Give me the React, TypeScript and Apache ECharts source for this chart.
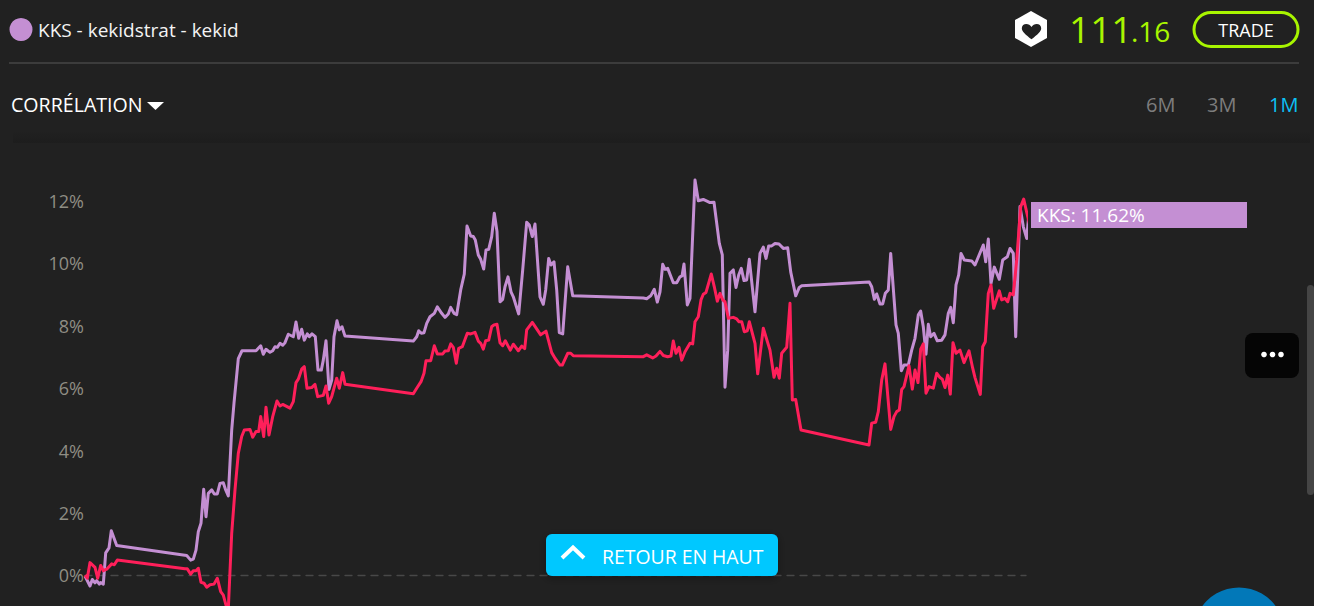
import React, { useEffect, useRef } from "react";
import * as echarts from "echarts";

const seriesName = "KKS";
const benchmarkName = "Benchmark";
const titleText = "KKS - kekidstrat - kekid";
const dropdownText = "CORRÉLATION";
const periods = ["6M", "3M", "1M"];
const backToTopText = "RETOUR EN HAUT";
const tradeText = "TRADE";
const priceWhole = "111";
const priceDecimals = ".16";

// [elapsed time along the window, performance in %]
const kksValues: [number, number][] = [
  [0,-0.02],[5,-0.34],[7.3,-0.13],[10,-0.24],[11.7,-0.17],[14.3,-0.28],[15.7,-0.23],[18.3,-0.28],[20.7,0.72],[24,0.88],
  [26.3,1.43],[31.7,0.96],[101.7,0.64],[105.7,0.49],[108.3,0.52],[111,0.81],[113.3,1.4],[116,1.67],[118.7,2.76],[121,1.88],
  [123.3,2.63],[126.7,2.74],[129.3,2.61],[132.3,2.61],[135,2.95],[138.3,2.97],[140.7,2.74],[143.3,2.55],[146.7,4.66],[149,5.52],
  [153.3,6.95],[157,7.2],[171,7.2],[175.7,7.36],[178.3,7.09],[181,7.25],[185,7.15],[187.7,7.2],[190,7.33],[192.3,7.31],
  [195,7.44],[197.7,7.38],[200,7.46],[203.3,7.73],[208.3,7.65],[211,8.12],[213.7,7.6],[216.7,7.89],[219.3,7.54],[222.3,7.74],
  [224.3,7.65],[227,7.74],[230.3,7.65],[233,6.58],[236.3,6.58],[238.3,6.9],[241,7.52],[244,5.96],[246.7,6.26],[249,7.65],
  [252,8.16],[254.3,7.87],[257,7.97],[260,7.67],[328.3,7.51],[331.7,7.65],[333.7,7.84],[336.3,7.76],[339,7.78],[341.7,8.08],
  [345,8.29],[349.3,8.4],[352.3,8.61],[356.7,8.4],[360,8.27],[363.3,8.38],[365.7,8.59],[369,8.4],[371.7,8.36],[375.7,9.15],
  [379.3,9.66],[382,11.2],[385.7,10.88],[388.3,10.86],[390.3,10.75],[393.3,10.27],[395.7,10.13],[398.7,9.82],[401,10.43],[403.7,10.45],
  [406.7,10.86],[409.3,11.61],[412,11.02],[415,8.77],[417.7,8.85],[420,9.25],[423,9.57],[426,9.09],[428.3,8.93],[433.7,8.38],
  [437.7,9.79],[441.7,11.32],[444.3,11.23],[447.3,10.86],[450,11.26],[455,8.93],[458.3,8.69],[460.7,9.15],[463.7,10.16],[466,9.95],
  [469,10.05],[471.7,9.15],[474.3,7.78],[477.7,7.74],[482.7,9.89],[487.7,8.96],[558.3,8.89],[561.7,8.87],[565.7,8.96],[569.3,9.17],
  [572.3,8.76],[575,9.09],[577.7,9.97],[580,9.81],[582.7,9.84],[588.3,9.38],[591.7,9.38],[595,9.57],[597,9.6],[599,9.98],
  [602.3,8.67],[605,8.88],[610,12.67],[613.3,12.01],[618.3,12.05],[625,11.95],[629,11.96],[634.3,10.64],[637.3,10.27],[640,6.03],
  [642.7,7.22],[645,9.68],[648.3,9.79],[651,9.23],[653.7,9.63],[656.3,9.84],[659,9.45],[661.7,9.47],[664.3,10.13],[670,8.45],
  [675,10.32],[678.3,10.52],[681,10.16],[683.7,10.56],[686.7,10.56],[690,10.64],[694,10.62],[698.3,10.48],[702.7,10.5],[705.7,9.73],
  [710.7,8.96],[714.3,9.23],[716.7,9.28],[784.3,9.4],[786.7,9.25],[789.3,8.85],[791.7,9.02],[795,8.7],[797.7,8.7],[800.3,9.04],
  [803.3,9.15],[805.7,10.32],[811,8.03],[813.3,7.76],[816.3,6.56],[819,6.74],[823.3,6.74],[826.7,7.22],[830,7.6],[833.3,8.35],
  [835.7,8.47],[838.3,7.97],[841,7.09],[843.3,8.05],[845.7,7.65],[849,7.76],[852.3,7.52],[856.7,7.54],[860,7.71],[863.3,8.4],
  [865.7,8.59],[868.3,8.1],[871,9.31],[873.7,9.63],[876,10.32],[879.3,10.11],[886.7,10.08],[890,9.95],[898.3,10.59],[900.7,10.05],
  [903.3,10.78],[906,9.36],[909.3,9.88],[914.3,9.49],[917.7,10.11],[922.3,10.21],[925,10.48],[928.3,10.32],[930.7,7.65],[935,11.82],
  [938.3,11.18],[941.7,10.8],[944,11.62],
];

const benchmarkValues: [number, number][] = [
  [0,0.01],[2.3,-0.09],[5,0.41],[10,0.26],[12.7,-0.09],[15.7,0.32],[18.3,0.15],[21.7,0.2],[26.7,0.37],[29.3,0.34],
  [32.3,0.49],[100,0.21],[102.3,0.21],[105.7,0.04],[108.3,0.15],[111,0.15],[113.3,0.23],[116,-0.22],[119,-0.25],[121.7,-0.38],
  [125,-0.3],[129,-0.28],[132.3,-0.09],[135.7,-0.52],[138.3,-0.63],[141,-0.95],[143.3,-1.08],[146.7,1.35],[150,2.74],[153.3,3.91],
  [156.7,4.45],[159.3,4.66],[165,4.68],[167.7,4.43],[171,4.61],[173.7,4.61],[175.7,5.09],[178.7,4.45],[181,5.39],[184,4.5],
  [187.7,5.09],[192,5.59],[195,5.43],[197.7,5.48],[205,5.36],[208.3,5.57],[211,6.18],[213.3,6.29],[216.7,6.61],[219.3,6.69],
  [222,6],[226.7,6.02],[230,6.12],[232.7,5.73],[238.3,5.77],[241,6.07],[243.7,5.52],[246.7,5.73],[251.7,6.32],[254.3,6],
  [257.7,6.5],[260,6.13],[328.3,5.82],[331.7,6],[336,6.21],[339,6.48],[341,6.88],[345.7,6.88],[349.3,7.36],[352.3,7.1],
  [357.7,7.1],[360,7.19],[363.3,7.2],[365.7,7.42],[368.3,7.31],[371.3,6.8],[373.7,7.28],[377.3,7.33],[382.3,7.76],[385.7,7.74],
  [390,7.79],[393.3,7.51],[395.7,7.44],[398.3,7.25],[400.7,7.52],[403.7,7.54],[406.7,7.97],[409,8.03],[412,8.05],[415,7.46],
  [417.7,7.36],[420.3,7.52],[425.3,7.22],[428.3,7.41],[433.3,7.2],[436.7,7.35],[439.7,7.27],[441.7,7.87],[447.3,8.11],[455.7,7.71],
  [461,7.83],[466.7,7.14],[470,6.96],[475,6.74],[477.3,6.74],[482.7,7.12],[485.7,7.12],[488.3,7.04],[558.3,7.01],[561.7,7.07],
  [567.7,6.97],[571,7.03],[575,7.18],[578.3,7.05],[582.7,7.01],[586,7.03],[588.3,7.51],[591,7.12],[594,7.31],[596.7,6.9],
  [600,7.17],[605,7.44],[607.7,7.42],[610,8.13],[613.3,8.29],[616,8.83],[618.3,9.01],[621,9.07],[626.3,9.66],[629.3,9.25],
  [632.3,8.79],[635,9.04],[637.7,8.83],[640,8.77],[643.3,8.24],[648.3,8.27],[651.7,8.22],[654,8.13],[656.7,8.13],[659.3,7.81],
  [662.3,7.84],[664.3,8.13],[670,7.44],[672.7,6.46],[678.3,7.92],[685,7.22],[689,6.35],[691.7,6.64],[694.3,6.32],[696.7,7.12],
  [701.7,7.31],[705,8.72],[707.3,5.62],[710.7,5.64],[716,4.66],[784,4.18],[786.7,4.88],[790.7,4.91],[793.3,5.25],[796.7,6.26],
  [800,6.78],[805.7,4.68],[809,5.09],[811.7,5.25],[814.3,5.3],[816.7,5.96],[819,6.05],[824,6.72],[827.3,5.97],[830,6.58],
  [833,6.18],[835.7,7.25],[838.3,7.42],[841,5.84],[844,6.05],[848.3,6],[851.7,6.48],[855,6.34],[857.3,6.29],[860,6.02],
  [862.7,6.42],[865.3,5.81],[868,7.46],[871,7.12],[875,7.22],[879,6.82],[884,7.2],[887.7,6.64],[890,6.34],[895.3,5.8],
  [897.7,7.33],[900.3,7.49],[903.3,9.04],[906,9.31],[908.7,8.56],[914.3,9.12],[916.7,8.83],[920,8.88],[922.7,8.77],[925,9.04],
  [928.3,8.99],[931.7,10.11],[935.7,11.82],[938.7,12.06],[944.3,11.28],
];

const FONT = '"Open Sans", sans-serif';
const BG = "#212121";
const PURPLE = "#c48fd3";
const RED = "#ff1f5a";

echarts.graphic.registerShape(
  "heartLogo",
  echarts.graphic.extendPath(
    "M10 16 C4 11 0 8 0 4.4 C0 1.6 2.2 0 4.6 0 C6.8 0 8.8 1.2 10 3 C11.2 1.2 13.2 0 15.4 0 C17.8 0 20 1.6 20 4.4 C20 8 16 11 10 16 Z",
    {}
  )
);

const label = (text: string, x: number, y: number, size: number, fill: string, align = "left", z = 10) => ({
  type: "text",
  z,
  style: { text, x, y, fill, font: `${size}px ${FONT}`, textAlign: align, textVerticalAlign: "middle" },
});

const last = kksValues[kksValues.length - 1][1];

export default function App() {
  const ref = useRef<HTMLDivElement>(null);
  useEffect(() => {
    if (!ref.current) return;
    const chart = echarts.init(ref.current, undefined, { renderer: "svg" });
    chart.setOption({
      animation: false,
      backgroundColor: BG,
      grid: { left: 85, width: 941, top: 138.6, height: 499.2, outerBoundsMode: "none" },
      xAxis: {
        type: "value",
        min: 0,
        max: 941,
        splitLine: { show: false },
        axisTick: { show: false },
        axisLabel: { show: false },
        axisLine: { show: true, onZero: true, lineStyle: { color: "#484848", type: [7, 6], width: 1.3 } },
      },
      yAxis: {
        type: "value",
        min: -2,
        max: 14,
        interval: 2,
        axisLine: { show: false },
        axisTick: { show: false },
        splitLine: { show: false },
        axisLabel: {
          showMinLabel: false,
          showMaxLabel: false,
          margin: 1,
          formatter: "{value}%",
          color: "#8f8d84",
          fontFamily: FONT,
          fontSize: 18,
        },
      },
      series: [
        {
          name: seriesName,
          type: "line",
          data: kksValues,
          symbol: "none",
          clip: false,
          z: 2,
          lineStyle: { color: PURPLE, width: 3, join: "round" },
          endLabel: {
            show: true,
            formatter: () => `${seriesName}: ${last.toFixed(2)}%`,
            backgroundColor: PURPLE,
            color: "#ffffff",
            fontFamily: FONT,
            fontSize: 19,
            width: 205,
            height: 26,
            lineHeight: 26,
            padding: [0, 5, 0, 6],
            align: "left",
            verticalAlign: "middle",
            offset: [-5, -9],
          },
        },
        {
          name: benchmarkName,
          type: "line",
          data: benchmarkValues,
          symbol: "none",
          clip: false,
          z: 3,
          lineStyle: { color: RED, width: 3, join: "round" },
        },
      ],
      graphic: [
        {
          type: "rect",
          z: 1,
          shape: { x: 13, y: 131, width: 1297, height: 12 },
          style: {
            fill: new echarts.graphic.LinearGradient(0, 0, 0, 1, [
              { offset: 0, color: "#212121" },
              { offset: 1, color: "#1d1d1d" },
            ]),
          },
        },
        { type: "circle", z: 10, shape: { cx: 21, cy: 29.5, r: 11.5 }, style: { fill: PURPLE } },
        label(titleText, 38, 30, 19, "#f4f4f4"),
        { type: "rect", z: 10, shape: { x: 9, y: 62, width: 1290, height: 2 }, style: { fill: "#3c3c3c" } },
        label(dropdownText, 11, 104.5, 19.6, "#ffffff"),
        { type: "polygon", z: 10, shape: { points: [[147, 102], [164, 102], [155.5, 110]] }, style: { fill: "#ffffff" } },
        label(periods[0], 1146, 104.5, 20, "#7d7d7d"),
        label(periods[1], 1207, 104.5, 20, "#7d7d7d"),
        label(periods[2], 1269, 104.5, 20, "#0cc0f5"),
        {
          type: "polygon",
          z: 10,
          shape: { points: [[1031, 11], [1047, 20], [1047, 38], [1031, 47], [1015, 38], [1015, 20]] },
          style: { fill: "#ffffff" },
        },
        { type: "heartLogo", z: 11, x: 1021.8, y: 24, scaleX: 0.97, scaleY: 0.96, style: { fill: BG } },
        label(priceWhole, 1069, 28, 37, "#a8f500"),
        label(priceDecimals, 1131, 31, 28, "#a8f500"),
        {
          type: "rect",
          z: 10,
          shape: { x: 1194, y: 12.5, width: 104, height: 34, r: 17 },
          style: { fill: "none", stroke: "#a8f500", lineWidth: 3 },
        },
        label(tradeText, 1246, 29.5, 18, "#ffffff", "center"),
        { type: "rect", z: 10, shape: { x: 1245, y: 333, width: 54, height: 45, r: 8 }, style: { fill: "#050505" } },
        { type: "circle", z: 11, shape: { cx: 1264, cy: 354.5, r: 2.8 }, style: { fill: "#ffffff" } },
        { type: "circle", z: 11, shape: { cx: 1272.5, cy: 354.5, r: 2.8 }, style: { fill: "#ffffff" } },
        { type: "circle", z: 11, shape: { cx: 1281, cy: 354.5, r: 2.8 }, style: { fill: "#ffffff" } },
        { type: "rect", z: 10, shape: { x: 1307, y: 285, width: 7, height: 210, r: 3.5 }, style: { fill: "#454545" } },
        { type: "circle", z: 10, shape: { cx: 1239, cy: 633, r: 45.5 }, style: { fill: "#0278b8" } },
        {
          type: "rect",
          z: 20,
          shape: { x: 546, y: 534, width: 232, height: 42, r: 6 },
          style: { fill: "#00c8ff", shadowBlur: 8, shadowColor: "rgba(0,0,0,0.35)", shadowOffsetY: 2 },
        },
        {
          type: "polyline",
          z: 21,
          shape: { points: [[562, 558], [573, 547.5], [584, 558]] },
          style: { stroke: "#ffffff", lineWidth: 4, fill: "none" },
        },
        label(backToTopText, 602, 556, 19.4, "#ffffff", "left", 21),
      ],
    });
    return () => chart.dispose();
  }, []);

  return (
    <div style={{ position: "fixed", left: 0, top: 0, width: 1330, height: 614, background: "#ffffff", overflow: "hidden" }}>
      <div ref={ref} style={{ width: 1314, height: 606 }} />
    </div>
  );
}
